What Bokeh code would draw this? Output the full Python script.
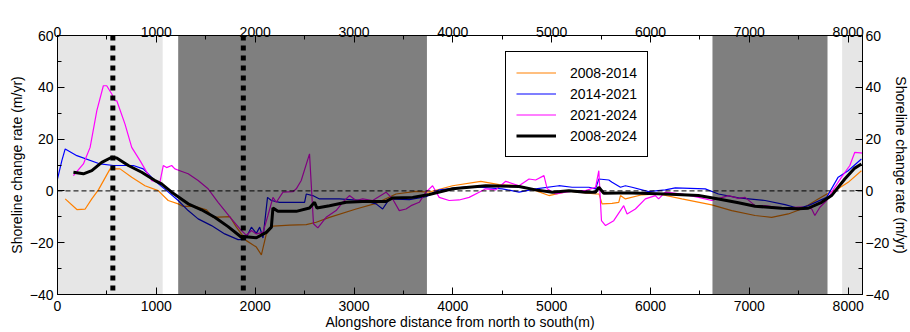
from bokeh.plotting import figure
from bokeh.models import (LinearAxis, SingleIntervalTicker, BoxAnnotation, Span,
                          Legend, LegendItem, Range1d, Title)
from bokeh.embed import file_html
from bokeh.resources import INLINE

# ---- data ----
x_0814 = [78, 196, 280, 347, 414, 532, 633, 751, 885, 1019, 1120, 1221, 1272, 1390, 1508, 1574,
          1743, 1810, 1911, 2012, 2063, 2113, 2180, 2350, 2517, 2618, 2752, 3021, 3223, 3425,
          3627, 3761, 3997, 4283, 4468, 4670, 4838, 4972, 5174, 5343, 5444, 5480, 5510, 5611,
          5679, 5696, 5746, 5914, 6082, 6317, 6620, 6822, 7058, 7226, 7394, 7529, 7697, 7815,
          7899, 8000, 8134]
y_0814 = [-3.1, -7.2, -7.0, -3.1, 0.4, 8.5, 8.5, 5.3, 2.0, 0.1, -3.7, -5.0, -6.0, -6.0, -7.3, -10.2,
          -9.9, -14.0, -19.2, -21.7, -24.7, -16.6, -13.6, -13.2, -13.0, -12.1, -10.2, -7.0, -4.8, -1.2,
          -0.2, -0.5, 2.0, 3.7, 2.4, 2.0, 0.1, -1.8, -0.1, -0.8, -1.2, -1.2, -5.0, -4.8,
          -4.4, -1.8, -3.1, -1.5, -1.2, -3.1, -5.4, -7.6, -9.5, -10.2, -8.9, -7.0, -3.1, -0.5,
          0.8, 3.3, 7.8]

x_1421 = [0, 44, 78, 196, 431, 565, 767, 868, 1003, 1104, 1221, 1322, 1423, 1558, 1692, 1827,
          1900, 1962, 2012, 2046, 2079, 2125, 2164, 2247, 2500, 2517, 2583, 2651, 2853, 3088,
          3223, 3290, 3358, 3560, 3728, 3862, 4165, 4501, 4670, 4838, 5073, 5207, 5376, 5444,
          5477, 5578, 5611, 5696, 5746, 5813, 5981, 6150, 6251, 6554, 6688, 6890, 7159, 7361,
          7495, 7596, 7782, 7899, 8000, 8134]
y_1421 = [4.6, 11.7, 16.2, 13.6, 10.4, 9.8, 9.8, 8.5, 3.3, 0.1, -3.7, -7.6, -10.8, -13.4, -16.6, -18.8,
          -18.7, -14.0, -16.4, -14.0, -18.2, -2.5, -3.7, -4.4, -4.4, -1.2, -1.8, -3.1, -3.1, -3.7,
          -5.0, -7.0, -3.1, -3.4, -2.2, 0.4, 1.7, 0.8, -0.5, 0.8, 2.0, 1.4, 1.4, 0.8,
          4.6, 4.2, 3.3, 1.4, 2.0, 1.4, -0.3, 0.4, 1.2, 0.8, -1.2, -2.7, -3.7, -5.3,
          -6.7, -5.7, -2.5, 5.3, 7.8, 12.3]

x_2124 = [161, 262, 330, 398, 464, 498, 549, 582, 600, 683, 751, 835, 953, 1036, 1070, 1104,
          1155, 1188, 1238, 1322, 1423, 1524, 1625, 1760, 1861, 1911, 1962, 2012, 2079, 2129,
          2180, 2214, 2281, 2382, 2416, 2466, 2550, 2590, 2634, 2718, 2819, 2886, 2954, 3021,
          3088, 3189, 3324, 3391, 3458, 3526, 3577, 3660, 3728, 3795, 3862, 3963, 4064, 4165,
          4266, 4333, 4434, 4535, 4670, 4771, 4838, 4922, 4955, 5040, 5141, 5242, 5343, 5444,
          5477, 5504, 5545, 5628, 5729, 5763, 5847, 5948, 6049, 6082, 6150, 6317, 6486, 6620,
          6789, 6890, 6957, 7058, 7159, 7260, 7361, 7495, 7529, 7630, 7663, 7714, 7782, 7832,
          7933, 8017, 8067, 8151]
y_2124 = [5.9, 10.4, 16.8, 31.0, 40.6, 40.6, 37.4, 34.8, 34.8, 25.8, 16.8, 11.7, 4.0, 3.3, 9.8, 9.0,
          9.8, 8.5, 7.8, 6.6, 4.0, 0.8, -4.4, -10.8, -15.3, -17.2, -15.3, -16.6, -16.0, -9.5,
          -2.5, -4.4, -0.5, -0.3, 0.8, 4.0, 14.3, -12.7, -14.3, -10.2, -7.6, -4.4, -1.8, -3.7,
          -3.1, -3.7, -0.5, -3.1, -7.6, -7.0, -5.7, -4.4, -0.5, 2.0, -2.5, -3.7, -3.5, -2.5,
          -0.5, 0.8, 0.4, 3.7, 2.0, 4.6, 4.2, 5.9, 0.8, -1.2, -0.5, 0.1, 0.1, 1.4,
          7.8, -11.5, -13.4, -11.5, -5.7, -8.9, -7.0, -3.1, -1.8, -3.1, -0.5, -1.2, -2.5, -3.7,
          -1.8, -2.9, -2.5, -5.7, -5.7, -6.3, -6.6, -6.3, -6.3, -6.9, -9.5, -6.3, -3.7, -0.5,
          5.3, 9.8, 14.9, 14.6]

x_0824 = [161, 262, 347, 448, 549, 599, 717, 852, 986, 1053, 1155, 1322, 1457, 1591, 1726, 1861,
          1877, 2012, 2113, 2164, 2180, 2230, 2416, 2550, 2601, 2624, 2752, 2920, 3088, 3324,
          3391, 3593, 3761, 3997, 4333, 4670, 4838, 5006, 5174, 5343, 5444, 5477, 5527, 5679,
          5813, 6150, 6486, 6688, 6890, 7058, 7327, 7495, 7596, 7731, 7832, 7899, 7966, 8067, 8134]
y_0824 = [7.2, 6.6, 7.8, 11.0, 13.0, 12.7, 9.8, 7.2, 4.0, 2.7, -0.5, -5.0, -7.3, -10.2, -13.8, -17.9,
          -17.6, -18.1, -16.0, -14.0, -6.6, -7.9, -7.9, -6.6, -4.4, -6.6, -5.7, -4.4, -4.1, -4.1,
          -2.7, -2.5, -1.4, 0.8, 2.0, 1.7, 0.4, -0.5, 0.1, -0.5, -0.5, 1.4, -0.9, -0.8,
          -0.8, -1.2, -1.8, -3.1, -4.6, -5.9, -6.7, -6.9, -6.7, -4.4, -1.8, 1.4, 4.6, 8.8, 10.4]

series_names = ["2008-2014", "2014-2021", "2021-2024", "2008-2024"]
y_title = "Shoreline change rate (m/yr)"
x_title = "Alongshore distance from north to south(m)"

X_MAX = 8145
Y_MIN, Y_MAX = -40, 60
light_left = [0, 7939]
light_right = [1064, X_MAX]
dark_left = [1221, 6627]
dark_right = [3738, 7791]
marker_x = [560, 1880]

for a, b in [(x_0814, y_0814), (x_1421, y_1421), (x_2124, y_2124), (x_0824, y_0824)]:
    assert len(a) == len(b), (len(a), len(b))

FONT = "Liberation Sans"

p = figure(width=910, height=332, output_backend="svg", toolbar_location=None,
           x_range=Range1d(0, X_MAX), y_range=Range1d(Y_MIN, Y_MAX),
           min_border_left=57, min_border_top=35, min_border_right=46, min_border_bottom=38,
           x_axis_location=None, y_axis_location=None)
p.grid.visible = False
p.outline_line_color = "black"
p.background_fill_color = "white"
p.border_fill_color = "white"

for l, r in zip(light_left, light_right):
    p.add_layout(BoxAnnotation(left=l, right=r, fill_color="#e6e6e6", fill_alpha=1.0,
                               line_color=None, level="underlay"))

colors = ["#ff8000", "#0000ff", "#ff00ff", "black"]
widths = [1.2, 1.2, 1.2, 3]
data = [(x_0814, y_0814), (x_1421, y_1421), (x_2124, y_2124), (x_0824, y_0824)]
rends = []
for (xs, ys), c, w in zip(data, colors, widths):
    rends.append(p.line(xs, ys, line_color=c, line_width=w))

for l, r in zip(dark_left, dark_right):
    p.add_layout(BoxAnnotation(left=l, right=r, fill_color="black", fill_alpha=0.5,
                               line_color=None))

p.add_layout(Span(location=0, dimension="width", line_color="black", line_width=1,
                  line_dash="5 3"))
for mx in marker_x:
    p.add_layout(Span(location=mx, dimension="height", line_color="black", line_width=5,
                      line_dash="5 5"))


def style_axis(ax):
    ax.axis_line_color = "black"
    ax.major_tick_in = 7
    ax.major_tick_out = 0
    ax.minor_tick_in = 4
    ax.minor_tick_out = 0
    ax.major_tick_line_color = "black"
    ax.minor_tick_line_color = "black"
    ax.major_label_text_font = FONT
    ax.major_label_text_font_size = "14px"
    ax.major_label_text_color = "black"
    ax.major_label_standoff = 4
    ax.axis_label_text_font = FONT
    ax.axis_label_text_font_size = "14px"
    ax.axis_label_text_font_style = "normal"
    ax.axis_label_text_color = "black"
    ax.axis_label_standoff = 2


xt = lambda: SingleIntervalTicker(interval=1000, num_minor_ticks=2)
yt = lambda: SingleIntervalTicker(interval=20, num_minor_ticks=2)

ax_b = LinearAxis(ticker=xt(), axis_label=x_title)
ax_t = LinearAxis(ticker=xt(), axis_label=None)
ax_l = LinearAxis(ticker=yt(), axis_label=y_title)
ax_r = LinearAxis(ticker=yt(), axis_label=None)
for ax in (ax_b, ax_t, ax_l, ax_r):
    style_axis(ax)
ax_t.major_label_standoff = -1
ax_b.major_label_standoff = 6
ax_b.axis_label_standoff = 0
ax_r.major_label_standoff = 3
p.add_layout(ax_b, "below")
p.add_layout(ax_t, "above")
p.add_layout(ax_l, "left")
p.add_layout(ax_r, "right")

# right-hand axis title
p.add_layout(Title(text=y_title, align="center", text_font=FONT, text_font_size="14px",
                   text_font_style="normal", text_color="black", standoff=0,
                   offset=0), "right")

legend = Legend(items=[LegendItem(label=n, renderers=[r]) for n, r in zip(series_names, rends)],
                location=(448, 137), border_line_color="black", border_line_width=1,
                border_line_alpha=1.0, background_fill_color="white", background_fill_alpha=1.0,
                padding=10, spacing=0, margin=0, glyph_width=40, glyph_height=21,
                label_height=21, label_standoff=14, label_text_font=FONT,
                label_text_font_size="14px", label_text_color="black")
p.add_layout(legend)

open("out.html", "w").write(file_html(p, INLINE))
